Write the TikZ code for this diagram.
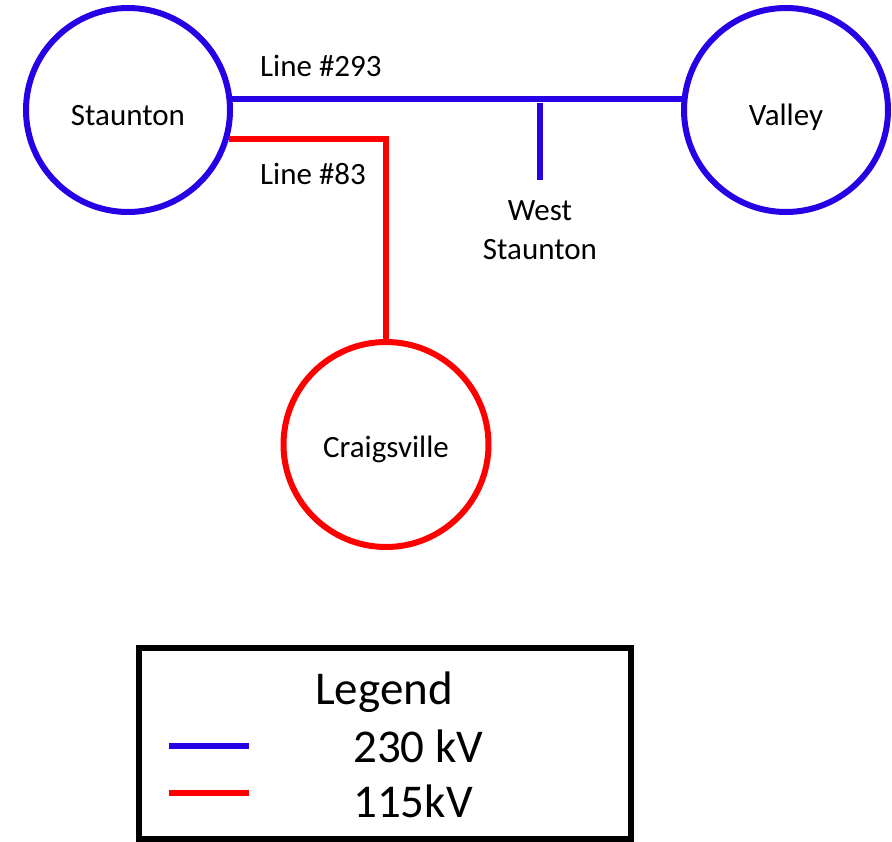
\documentclass[tikz,border=0pt]{standalone}
\usepackage{fontspec}
\setmainfont{Carlito}
\definecolor{hvblue}{RGB}{40,0,230}
\definecolor{mvred}{RGB}{255,0,0}
\begin{document}
\begin{tikzpicture}[x=1pt,y=-1pt,
  station/.style={circle, draw, line width=6pt, minimum size=204pt, inner sep=0pt,
    font=\fontsize{31}{39}\selectfont, text height=32pt, text depth=0pt},
  lbl/.style={inner sep=0pt, font=\fontsize{31}{39}\selectfont},
  kvA/.style={draw=hvblue, line width=6pt},
  kvB/.style={draw=mvred, line width=6pt},
  legtext/.style={inner sep=0pt, font=\fontsize{47}{56}\selectfont}]
\useasboundingbox (0,0) rectangle (892,842);

% substations
\node[station, draw=hvblue] (staunton) at (128,110) {Staunton};
\node[station, draw=hvblue] (valley) at (786,110) {Valley};
\node[station, draw=mvred, minimum size=205pt, text height=26pt] (craigsville) at (386,444.5) {Craigsville};

% 230 kV line with tap to West Staunton
\draw[kvA] (staunton.6) -- (valley.174);
\coordinate (tap) at (540,103);
\coordinate (tapEnd) at (540,180);
\draw[kvA] (tap) -- (tapEnd);
\node[lbl, anchor=north, align=center] (westst) at (540,200) {West\\Staunton};

% 115 kV line to Craigsville
\draw[kvB] (staunton.-16) -- (staunton.-16 -| craigsville.north) -- (craigsville.north);

% line labels
\node[lbl, anchor=base west] (l293) at (260,77) {Line \#293};
\node[lbl, anchor=base west] (l83) at (260,185) {Line \#83};

% legend
\draw[line width=5.5pt] (139,648) rectangle (631,839);
\node[legtext, anchor=base] (legtitle) at (384,704) {Legend};
\coordinate (la1) at (169,746);
\coordinate (lb1) at (249,746);
\coordinate (la2) at (169,793);
\coordinate (lb2) at (249,793);
\draw[kvA] (la1) -- (lb1);
\draw[kvB] (la2) -- (lb2);
\node[legtext, anchor=base west] (leg230) at (353,762) {230 kV};
\node[legtext, anchor=base west] (leg115) at (353,817) {115kV};
\end{tikzpicture}
\end{document}
